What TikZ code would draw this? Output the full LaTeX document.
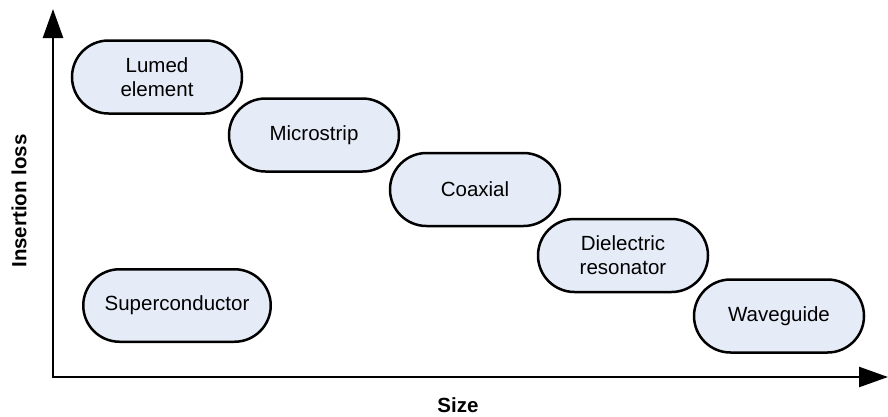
\documentclass[tikz,border=0pt]{standalone}
\usepackage{fontspec}
\setmainfont{Liberation Sans}
\usetikzlibrary{arrows.meta,shapes.misc}
\definecolor{techfill}{RGB}{230,236,247}
\tikzset{
  tech/.style={rounded rectangle, draw=black, fill=techfill, line width=2.5pt,
    minimum width=170pt, minimum height=73pt,
    inner sep=0pt, align=center, font=\fontsize{20.5pt}{24pt}\selectfont},
  axis/.style={line width=2.5pt, {Triangle[length=29pt,width=20pt]}-{Triangle[length=29pt,width=20pt]}},
  axislabel/.style={font=\fontsize{20.5pt}{24pt}\selectfont\bfseries, inner sep=0pt}
}
\begin{document}
\begin{tikzpicture}[x=1pt,y=-1pt]
  \useasboundingbox (0,0) rectangle (888,416);
  % axes
  \coordinate (ytip) at (53,9);
  \coordinate (origin) at (53,377);
  \coordinate (xtip) at (888,377);
  \draw[axis] (ytip) -- (origin) -- (xtip);
  \node[axislabel, rotate=90] (ylab) at (19,201) {Insertion loss};
  \node[axislabel] (xlab) at (458,405) {Size};
  % technologies
  \node[tech] (lumped) at (157,77) {Lumed\\element};
  \node[tech] (micro) at (314,135) {Microstrip};
  \node[tech] (coax) at (475,189.5) {Coaxial};
  \node[tech] (diel) at (623,255.5) {Dielectric\\resonator};
  \node[tech] (wave) at (779,316) {Waveguide};
  \node[tech, minimum width=187.5pt, minimum height=72.5pt] (super) at (177,305.5) {Superconductor};
\end{tikzpicture}
\end{document}
